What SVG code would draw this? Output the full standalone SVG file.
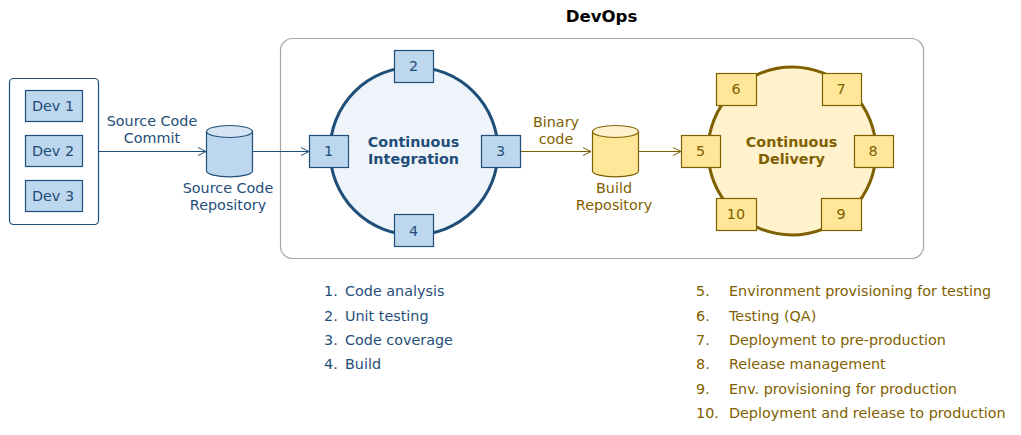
<svg xmlns="http://www.w3.org/2000/svg" width="1021" height="435" viewBox="0 0 1021 435">
<style>
text{font-family:"DejaVu Sans",Verdana,sans-serif;font-size:14.35px;text-anchor:middle}
.b text,text.b{fill:#1f4e79}
.g text,text.g{fill:#7f6000}
.b rect{fill:#bdd7ee;stroke:#1f4e79;stroke-width:1.2}
.g rect{fill:#ffe699;stroke:#7f6000;stroke-width:1.2}
.h{font-weight:bold}
.l{text-anchor:start}
.cb{fill:none;stroke:#1f4e79;stroke-width:1.1}
.cg{fill:none;stroke:#7f6000;stroke-width:1.1}
</style>
<defs>
<marker id="ab" markerUnits="userSpaceOnUse" markerWidth="12" markerHeight="12" refX="9" refY="6" orient="auto"><path d="M1 2L9 6L1 10" fill="none" stroke="#1f4e79" stroke-width="1"/></marker>
<marker id="ag" markerUnits="userSpaceOnUse" markerWidth="12" markerHeight="12" refX="9" refY="6" orient="auto"><path d="M1 2L9 6L1 10" fill="none" stroke="#7f6000" stroke-width="1"/></marker>
</defs>
<rect width="1021" height="435" fill="#fff"/>
<text class="h" x="601.500" y="22" style="font-size:16.6px;fill:#000">DevOps</text>
<rect id="devops-frame" x="280.500" y="38.500" width="643" height="220" rx="12" fill="#fff" stroke="#a6a6a6" stroke-width="1.2"/>
<g id="devs" class="b">
<rect x="9.500" y="78.500" width="89" height="146" rx="4" style="fill:#fff"/>
<g id="dev1"><rect x="25.500" y="90.500" width="57" height="31"/><text x="53" y="111">Dev 1</text></g>
<g id="dev2"><rect x="25.500" y="135.500" width="57" height="31"/><text x="53" y="156">Dev 2</text></g>
<g id="dev3"><rect x="25.500" y="180.500" width="57" height="31"/><text x="53" y="201">Dev 3</text></g>
</g>
<g id="connectors">
<path class="cb" d="M99 151.500H206" marker-end="url(#ab)"/>
<path class="cb" d="M253 151.500H309" marker-end="url(#ab)"/>
<path class="cg" d="M521 151.500H591" marker-end="url(#ag)"/>
<path class="cg" d="M639 151.500H681" marker-end="url(#ag)"/>
</g>
<text class="b" x="152" y="126">Source Code</text>
<text class="b" x="152" y="143">Commit</text>
<text class="g" x="556" y="127">Binary</text>
<text class="g" x="556" y="144">code</text>
<g id="source-repo">
<path d="M206.500 131.500V171c0 3.200 10.300 5.800 23 5.800s23-2.600 23-5.800V131.500z" fill="#bdd7ee" stroke="#1f4e79" stroke-width="1.200"/>
<ellipse cx="229.500" cy="131.500" rx="23" ry="6" fill="#d6e5f5" stroke="#1f4e79" stroke-width="1.200"/>
<text class="b" x="228" y="193">Source Code</text>
<text class="b" x="228" y="210">Repository</text>
</g>
<g id="build-repo">
<path d="M592.500 131.500V171c0 3.200 10.300 5.800 23 5.800s23-2.600 23-5.800V131.500z" fill="#ffe699" stroke="#7f6000" stroke-width="1.200"/>
<ellipse cx="615.500" cy="131.500" rx="23" ry="6" fill="#fff2cc" stroke="#7f6000" stroke-width="1.200"/>
<text class="g" x="614" y="193">Build</text>
<text class="g" x="614" y="210">Repository</text>
</g>
<g id="ci">
<circle cx="414" cy="151" r="84" fill="#eff4fb" stroke="#1f4e79" stroke-width="3"/>
<text class="b h" x="413.500" y="147">Continuous</text>
<text class="b h" x="413.500" y="164">Integration</text>
</g>
<g class="b">
<g id="n1"><rect x="309.500" y="135.500" width="39" height="32"/><text x="328.500" y="156">1</text></g>
<g id="n2"><rect x="394.500" y="50.500" width="39" height="32"/><text x="413.500" y="71">2</text></g>
<g id="n3"><rect x="481.500" y="135.500" width="39" height="32"/><text x="500.500" y="156">3</text></g>
<g id="n4"><rect x="394.500" y="214.500" width="39" height="32"/><text x="413.500" y="236">4</text></g>
</g>
<g id="cd">
<circle cx="792" cy="151" r="84" fill="#fff2cc" stroke="#7f6000" stroke-width="3"/>
<text class="g h" x="791.500" y="147">Continuous</text>
<text class="g h" x="791.500" y="164">Delivery</text>
</g>
<g class="g">
<g id="n5"><rect x="681.500" y="135.500" width="39" height="32"/><text x="700.500" y="156">5</text></g>
<g id="n6"><rect x="716.500" y="73.500" width="40" height="32"/><text x="736" y="94">6</text></g>
<g id="n7"><rect x="822.500" y="73.500" width="39" height="32"/><text x="841" y="94">7</text></g>
<g id="n8"><rect x="854.500" y="135.500" width="39" height="32"/><text x="873" y="156">8</text></g>
<g id="n9"><rect x="821.500" y="198.500" width="40" height="32"/><text x="841" y="219">9</text></g>
<g id="n10"><rect x="716.500" y="198.500" width="40" height="32"/><text x="736" y="219">10</text></g>
</g>
<g id="ci-list" class="b">
<text class="l" x="324" y="296">1.</text><text class="l" x="345" y="296">Code analysis</text>
<text class="l" x="324" y="321">2.</text><text class="l" x="345" y="321">Unit testing</text>
<text class="l" x="324" y="345">3.</text><text class="l" x="345" y="345">Code coverage</text>
<text class="l" x="324" y="369">4.</text><text class="l" x="345" y="369">Build</text>
</g>
<g id="cd-list" class="g">
<text class="l" x="696" y="296">5.</text><text class="l" x="729" y="296">Environment provisioning for testing</text>
<text class="l" x="696" y="321">6.</text><text class="l" x="729" y="321">Testing (QA)</text>
<text class="l" x="696" y="345">7.</text><text class="l" x="729" y="345">Deployment to pre-production</text>
<text class="l" x="696" y="369">8.</text><text class="l" x="729" y="369">Release management</text>
<text class="l" x="696" y="394">9.</text><text class="l" x="729" y="394">Env. provisioning for production</text>
<text class="l" x="696" y="418">10.</text><text class="l" x="729" y="418">Deployment and release to production</text>
</g>
</svg>
